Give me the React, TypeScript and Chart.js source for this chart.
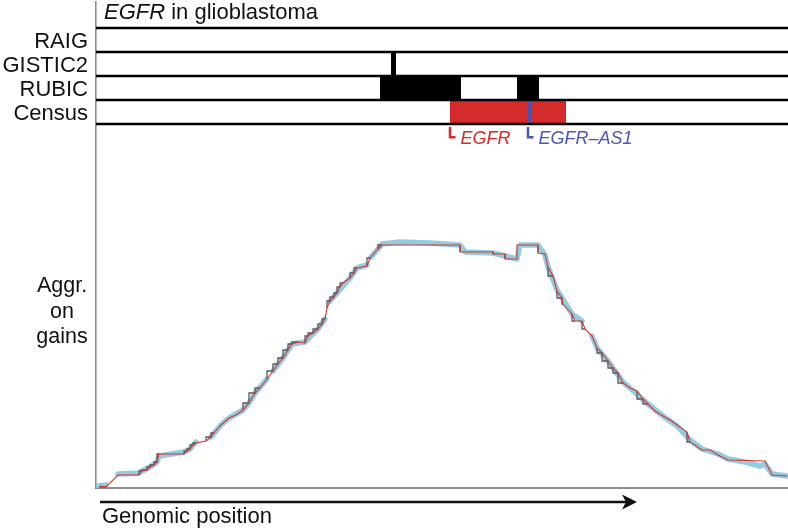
import React, { useEffect, useRef } from "react";
import { Chart, registerables } from "chart.js";

Chart.register(...registerables);

// ---- Track annotations (x in kb from window start) ----
const trackNames = ["RAIG", "GISTIC2", "RUBIC", "Census"];
const raigRegions: number[][] = [];
const gisticRegions: number[][] = [[590, 600]];
const rubicRegions: number[][] = [[568, 730], [842, 886]];
const censusGenes = ["EGFR", "EGFR\u2013AS1"];
const censusStart = [708, 864];
const censusEnd = [940, 872];
const censusColors = ["#d42b2b", "#4a55b5"];

// ---- Aggregated gains curve ----
const aggX = [
  8, 20, 44, 86, 92, 102, 108, 116, 122, 126, 176, 182, 188, 194, 200, 220, 230, 236, 250, 266,
  280, 294, 306, 318, 328, 342, 354, 364, 374, 384, 392, 404, 418, 424, 434, 444, 452, 458, 462, 468,
  476, 482, 488, 494, 508, 516, 522, 542, 548, 564, 572, 728, 728, 794, 794, 818, 818, 842, 842, 884,
  884, 898, 904, 914, 922, 932, 934, 952, 958, 972, 978, 992, 1002, 1012, 1024, 1034, 1044, 1054, 1068, 1082,
  1094, 1104, 1118, 1134, 1148, 1162, 1182, 1188, 1212, 1228, 1244, 1264, 1338, 1352, 1382,
];
const aggY = [
  1, 0.5, 6.5, 6.5, 8.5, 9, 10.5, 11.5, 13, 17, 17, 18.5, 19.5, 21.5, 22.5, 23.5, 25.5, 27.5, 31.5, 35,
  36.5, 39, 42.5, 47.5, 50, 54.5, 58.5, 62, 65, 69, 72, 73, 72.5, 76, 77.5, 79.5, 82, 84.5, 90, 93.5,
  95.5, 97.5, 100.5, 102.5, 105, 107.5, 110, 111, 115, 119.5, 121.5, 121.5, 118, 118, 117, 117, 114.5, 114.5, 121.5, 121.5,
  117.5, 117, 110.5, 106, 98.5, 95, 92, 87, 83.5, 83.5, 79.5, 76, 70, 67.5, 63.5, 60, 57.5, 52.5, 50, 48.5,
  44.5, 42, 38.5, 36, 34, 31.5, 28, 23, 19, 19, 16.5, 14, 13.5, 6.5, 6,
];

// ---- Individual sample scores (light blue band) ----
const bandX = [
  4, 20, 32, 44, 86, 92, 108, 122, 126, 176, 188, 200, 215, 230, 250, 266, 294, 306, 318, 342,
  348, 354, 374, 392, 418, 444, 458, 464, 468, 482, 508, 522, 542, 546, 550, 564, 572, 608, 668, 728,
  738, 794, 818, 842, 848, 884, 898, 904, 922, 952, 972, 982, 992, 1002, 1024, 1054, 1068, 1104, 1134, 1162,
  1188, 1212, 1244, 1264, 1298, 1328, 1338, 1352, 1382,
];
const bandY = [
  1, 1.5, null, 7, 7.5, 8.5, 10.5, 13, 16, 18, 19.5, 23, null, 25.5, 31.5, 35, 39, 42.5, 47.5, 54.5,
  null, 58.5, 65, 72, 73, 79.5, 84.5, null, 93.5, 97.5, 105, 110, 111.5, null, 115.5, 119.5, 122, 123, 122.5, 121.5,
  118, 117.5, 116, 114.5, 121.5, 121.5, 116.5, 110.5, 99, 87, 83.5, null, 76, 70, 63.5, 53, 50, 42, 36, 31,
  24, 19.5, 17, 14.5, 13, 11, 12, 7, 6,
];

const FONT = "'Liberation Sans', Arial, Helvetica, sans-serif";

function pts(xs: number[], ys: (number | null)[]) {
  return xs.map((x, i) => ({ x, y: ys[i] }));
}

const textPlugin = {
  id: "figureTexts",
  afterDraw(chart: any) {
    const { ctx, chartArea, scales } = chart;
    const xs = scales.x;
    const yt = scales.yt;
    const ya = scales.ya;
    ctx.save();
    ctx.fillStyle = "#111";
    ctx.textBaseline = "alphabetic";

    // Title
    ctx.textAlign = "left";
    const tY = yt.getPixelForValue(-0.38);
    let tx = chartArea.left + 8;
    ctx.font = `italic 22px ${FONT}`;
    ctx.fillText("EGFR", tx, tY);
    tx += ctx.measureText("EGFR").width;
    ctx.font = `22px ${FONT}`;
    ctx.fillText(" in glioblastoma", tx, tY);

    // Track labels
    ctx.textAlign = "right";
    trackNames.forEach((n, i) => {
      ctx.fillText(n, chartArea.left - 8, yt.getPixelForValue(i + 0.5) + 8);
    });

    // Aggregate label
    ctx.textAlign = "center";
    ctx.font = `21.5px ${FONT}`;
    const mid = ya.getPixelForValue(85);
    ctx.fillText("Aggr.", 62, mid - 26);
    ctx.fillText("on", 62, mid);
    ctx.fillText("gains", 62, mid + 25);

    // Gene labels
    ctx.textAlign = "left";
    ctx.font = `italic 18px ${FONT}`;
    censusGenes.forEach((g, i) => {
      ctx.fillStyle = censusColors[i];
      ctx.fillText(g, xs.getPixelForValue(censusStart[i] + 21), yt.getPixelForValue(4.83));
    });

    // Genomic position arrow
    const ay = chartArea.bottom + 14;
    const ax0 = xs.getPixelForValue(8);
    const ax1 = xs.getPixelForValue(1082);
    ctx.strokeStyle = "#111";
    ctx.fillStyle = "#111";
    ctx.lineWidth = 2.5;
    ctx.beginPath();
    ctx.moveTo(ax0, ay);
    ctx.lineTo(ax1 - 8, ay);
    ctx.stroke();
    ctx.beginPath();
    ctx.moveTo(ax1, ay);
    ctx.lineTo(ax1 - 15, ay - 7.5);
    ctx.lineTo(ax1 - 11, ay);
    ctx.lineTo(ax1 - 15, ay + 7.5);
    ctx.closePath();
    ctx.fill();

    ctx.font = `22px ${FONT}`;
    ctx.fillText("Genomic position", ax0 + 2, chartArea.bottom + 35);
    ctx.restore();
  },
};

export default function App() {
  const ref = useRef<HTMLCanvasElement | null>(null);

  useEffect(() => {
    document.body.style.margin = "0";
    if (!ref.current) return;

    const datasets: any[] = [];

    // track separator lines
    for (let i = 0; i <= trackNames.length; i++) {
      datasets.push({
        data: [{ x: 0, y: i }, { x: 1384, y: i }],
        yAxisID: "yt",
        borderColor: "#000",
        borderWidth: 2.6,
        pointRadius: 0,
        fill: false,
        order: 0,
      });
    }

    const rowRegions = [raigRegions, gisticRegions, rubicRegions];
    rowRegions.forEach((regs, row) => {
      regs.forEach(([s, e]) => {
        datasets.push({
          data: [{ x: s, y: row }, { x: e, y: row }],
          yAxisID: "yt",
          borderWidth: 0,
          borderColor: "rgba(0,0,0,0)",
          backgroundColor: "#000",
          pointRadius: 0,
          fill: { value: row + 1 },
          order: 2,
        });
      });
    });

    censusGenes.forEach((g, i) => {
      datasets.push({
        data: [{ x: censusStart[i], y: 3 }, { x: censusEnd[i], y: 3 }],
        yAxisID: "yt",
        borderWidth: 0,
        borderColor: "rgba(0,0,0,0)",
        backgroundColor: censusColors[i],
        pointRadius: 0,
        fill: { value: 4 },
        order: i === 0 ? 2 : 1,
      });
      datasets.push({
        data: [
          { x: censusStart[i], y: 4.12 },
          { x: censusStart[i], y: 4.55 },
          { x: censusStart[i] + 11, y: 4.55 },
        ],
        yAxisID: "yt",
        borderColor: censusColors[i],
        borderWidth: 2.5,
        pointRadius: 0,
        fill: false,
        order: 1,
      });
    });

    // Aggregated curve
    datasets.push({
      data: pts(aggX, aggY),
      yAxisID: "ya",
      borderColor: "#d8342c",
      borderWidth: 1.1,
      pointRadius: 0,
      fill: false,
      order: 3,
    });
    datasets.push({
      data: pts(aggX, aggY),
      yAxisID: "ya",
      borderColor: "#5b5b5b",
      borderWidth: 1.3,
      stepped: "after",
      pointRadius: 0,
      fill: false,
      order: 4,
      segment: {
        borderColor: (c: any) => {
          const dx = Math.abs(c.p1.parsed.x - c.p0.parsed.x);
          const dy = Math.abs(c.p1.parsed.y - c.p0.parsed.y);
          return dx > 13 || dy > 5 ? "rgba(0,0,0,0)" : "#5b5b5b";
        },
      },
    });
    datasets.push({
      data: pts(bandX, bandY),
      yAxisID: "ya",
      borderColor: "rgba(135,198,222,0.9)",
      borderWidth: 5.5,
      borderCapStyle: "round",
      borderJoinStyle: "round",
      pointRadius: 0,
      spanGaps: false,
      fill: false,
      order: 5,
    });

    const chart = new Chart(ref.current, {
      type: "line",
      data: { datasets },
      options: {
        responsive: false,
        animation: false,
        events: [],
        layout: { padding: { left: 96, right: 0, top: 2, bottom: 42 }, autoPadding: false },
        plugins: { legend: { display: false }, tooltip: { enabled: false } },
        scales: {
          x: {
            type: "linear",
            min: 0,
            max: 1384,
            ticks: { display: false },
            grid: { display: false, drawTicks: false },
            border: { display: true, color: "#8c8c8c", width: 2 },
          },
          yt: {
            type: "linear",
            position: "left",
            reverse: true,
            min: -13 / 12,
            max: 115 / 6,
            ticks: { display: false },
            grid: { display: false, drawTicks: false },
            border: { display: true, color: "#8c8c8c", width: 1.6 },
          },
          ya: {
            type: "linear",
            display: false,
            min: 0,
            max: 243,
          },
        },
      },
      plugins: [textPlugin],
    });
    return () => chart.destroy();
  }, []);

  return <canvas ref={ref} width={788} height={530} style={{ display: "block" }} />;
}
